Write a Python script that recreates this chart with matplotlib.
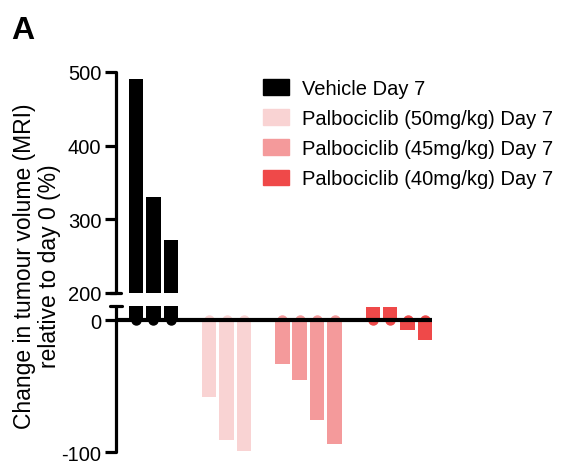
import numpy as np
import matplotlib.pyplot as plt
from matplotlib.patches import Patch

plt.rcParams['font.family'] = ['Liberation Sans', 'DejaVu Sans']
plt.rcParams['axes.unicode_minus'] = False

# values (% change in tumour volume, day 7)
groups = ['Vehicle Day 7', 'Palbociclib (50mg/kg) Day 7',
          'Palbociclib (45mg/kg) Day 7', 'Palbociclib (40mg/kg) Day 7']
vehicle = [490, 330, 272]
palbo_50 = [-58, -91, -99]
palbo_45 = [-33, -45, -76, -94]
palbo_40 = [10, 10, -7, -15]
colors = ['#000000', '#F9D3D3', '#F49A9B', '#EF4949']

series = [vehicle, palbo_50, palbo_45, palbo_40]

# x positions: bars one unit apart, extra gap between groups
positions = []
start = 0.0
for vals in series:
    positions.append(start + np.arange(len(vals)))
    start = positions[-1][-1] + 2.2

fig = plt.figure(figsize=(5.61, 4.64), dpi=100)
ax_top = fig.add_axes([0.2068, 0.3664, 0.5633, 0.4763])
ax_bot = fig.add_axes([0.2068, 0.0237, 0.5633, 0.3147])

for ax in (ax_top, ax_bot):
    for xs, vals, c in zip(positions, series, colors):
        ax.bar(xs, vals, width=0.83, color=c, zorder=2)
        ax.plot(xs, np.zeros(len(xs)), 'o', color=c, ms=6.5, zorder=2)
    ax.set_xlim(-1.15, 17.0)
    for s in ['top', 'right', 'bottom']:
        ax.spines[s].set_visible(False)
    ax.spines['left'].set_linewidth(2.3)
    ax.spines['left'].set_capstyle('round')
    ax.set_xticks([])
    ax.tick_params(axis='y', direction='out', length=8, width=2.3,
                   labelsize=14.5, pad=2.5)

ax_top.set_ylim(200, 500)
ax_top.set_yticks([200, 300, 400, 500])
ax_bot.set_ylim(-100, 11)
ax_bot.set_yticks([-100, 0])
ax_bot.axhline(0, color='black', lw=3, zorder=3, solid_capstyle='round')

# break marks at the split
ax_top.plot([-0.019, 0.016], [0, 0], transform=ax_top.transAxes,
            color='black', lw=2.3, clip_on=False, solid_capstyle='round')
ax_bot.plot([-0.019, 0.019], [1, 1], transform=ax_bot.transAxes,
            color='black', lw=2.3, clip_on=False, solid_capstyle='round')

fig.text(0.066, 0.426, 'Change in tumour volume (MRI)\nrelative to day 0 (%)',
         rotation=90, ha='center', va='center', fontsize=16.5,
         linespacing=1.08)
fig.text(0.02, 0.965, 'A', fontsize=23, fontweight='bold', va='top')

handles = [Patch(facecolor=c, edgecolor=c) for c in colors]
fig.legend(handles, groups, loc='upper left', bbox_to_anchor=(0.455, 0.845),
           frameon=False, fontsize=14.5, handlelength=1.3, handleheight=0.8,
           handletextpad=0.6, labelspacing=0.55, borderaxespad=0)

fig.savefig('out.png', dpi=100)
